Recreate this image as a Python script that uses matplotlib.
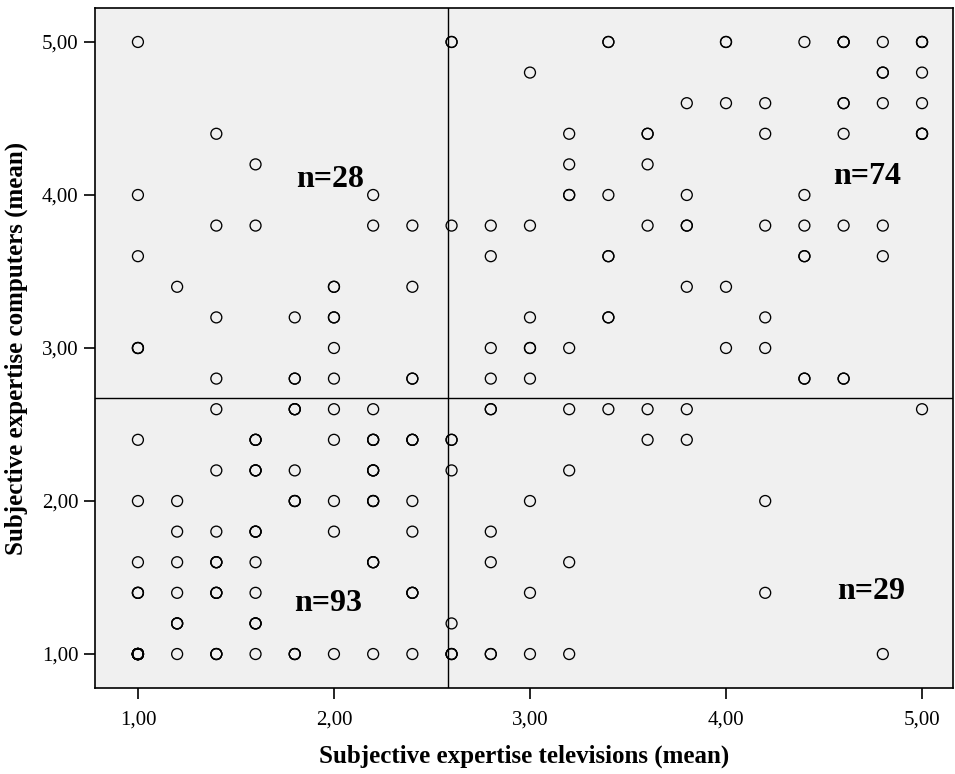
import numpy as np
import matplotlib.pyplot as plt

# -----------------------------
# DATA (n = how many cases sit on that grid point)
# -----------------------------
tv = [
    # upper left
    1.0, 1.0, 1.0, 1.0, 1.2, 1.4, 1.4, 1.4, 1.4, 1.6, 1.6, 1.8, 1.8,
    2.0, 2.0, 2.0, 2.0, 2.2, 2.2, 2.4, 2.4, 2.4,
    # upper right
    2.6, 2.6, 2.8, 2.8, 2.8, 2.8, 3.0, 3.0, 3.0, 3.0, 3.0,
    3.2, 3.2, 3.2, 3.2, 3.4, 3.4, 3.4, 3.4, 3.6, 3.6, 3.6,
    3.8, 3.8, 3.8, 3.8, 4.0, 4.0, 4.0, 4.0, 4.2, 4.2, 4.2, 4.2, 4.2,
    4.4, 4.4, 4.4, 4.4, 4.4, 4.6, 4.6, 4.6, 4.6, 4.6,
    4.8, 4.8, 4.8, 4.8, 4.8, 5.0, 5.0, 5.0, 5.0,
    # lower left
    1.0, 1.0, 1.0, 1.0, 1.0, 1.2, 1.2, 1.2, 1.2, 1.2, 1.2,
    1.4, 1.4, 1.4, 1.4, 1.4, 1.4, 1.6, 1.6, 1.6, 1.6, 1.6, 1.6, 1.6,
    1.8, 1.8, 1.8, 1.8, 2.0, 2.0, 2.0, 2.0, 2.0,
    2.2, 2.2, 2.2, 2.2, 2.2, 2.2, 2.4, 2.4, 2.4, 2.4, 2.4,
    # lower right
    2.6, 2.6, 2.6, 2.6, 2.8, 2.8, 2.8, 2.8, 3.0, 3.0, 3.0,
    3.2, 3.2, 3.2, 3.2, 3.4, 3.6, 3.6, 3.8, 3.8, 4.2, 4.2, 4.8, 5.0,
]
computers = [
    5.0, 4.0, 3.6, 3.0, 3.4, 4.4, 3.8, 3.2, 2.8, 4.2, 3.8, 3.2, 2.8,
    3.4, 3.2, 3.0, 2.8, 4.0, 3.8, 3.8, 3.4, 2.8,
    5.0, 3.8, 3.8, 3.6, 3.0, 2.8, 4.8, 3.8, 3.2, 3.0, 2.8,
    4.4, 4.2, 4.0, 3.0, 5.0, 4.0, 3.6, 3.2, 4.4, 4.2, 3.8,
    4.6, 4.0, 3.8, 3.4, 5.0, 4.6, 3.4, 3.0, 4.6, 4.4, 3.8, 3.2, 3.0,
    5.0, 4.0, 3.8, 3.6, 2.8, 5.0, 4.6, 4.4, 3.8, 2.8,
    5.0, 4.8, 4.6, 3.8, 3.6, 5.0, 4.8, 4.6, 4.4,
    2.4, 2.0, 1.6, 1.4, 1.0, 2.0, 1.8, 1.6, 1.4, 1.2, 1.0,
    2.6, 2.2, 1.8, 1.6, 1.4, 1.0, 2.4, 2.2, 1.8, 1.6, 1.4, 1.2, 1.0,
    2.6, 2.2, 2.0, 1.0, 2.6, 2.4, 2.0, 1.8, 1.0,
    2.6, 2.4, 2.2, 2.0, 1.6, 1.0, 2.4, 2.0, 1.8, 1.4, 1.0,
    2.4, 2.2, 1.2, 1.0, 2.6, 1.8, 1.6, 1.0, 2.0, 1.4, 1.0,
    2.6, 2.2, 1.6, 1.0, 2.6, 2.6, 2.4, 2.6, 2.4, 2.0, 1.4, 1.0, 2.6,
]
n = [
    1, 1, 1, 3, 1, 1, 1, 1, 1, 1, 1, 1, 2,
    2, 2, 1, 1, 1, 1, 1, 1, 2,
    2, 1, 1, 1, 1, 1, 1, 1, 1, 2, 1,
    1, 1, 2, 1, 2, 1, 2, 2, 2, 1, 1,
    1, 1, 2, 1, 2, 1, 1, 1, 1, 1, 1, 1, 1,
    1, 1, 1, 2, 2, 3, 2, 1, 1, 2,
    1, 2, 1, 1, 1, 3, 1, 1, 3,
    1, 1, 1, 3, 14, 1, 1, 1, 1, 3, 1,
    1, 1, 1, 3, 3, 3, 3, 3, 3, 1, 1, 3, 1,
    3, 1, 3, 3, 1, 1, 1, 1, 1,
    1, 3, 3, 3, 3, 1, 3, 1, 1, 3, 1,
    2, 1, 1, 3, 2, 1, 1, 2, 1, 1, 1,
    1, 1, 1, 1, 1, 1, 1, 1, 1, 1, 1, 1, 1,
]

split_tv = 2.58
split_computers = 2.673

quadrant_labels = ["n=28", "n=74", "n=93", "n=29"]
label_x = [1.98, 4.72, 1.97, 4.74]
label_y = [4.10, 4.12, 1.33, 1.41]

ticks = [1.0, 2.0, 3.0, 4.0, 5.0]

x = np.repeat(tv, n)
y = np.repeat(computers, n)

# -----------------------------
# PLOT
# -----------------------------
fig = plt.figure(figsize=(9.55, 7.74), dpi=100)
ax = fig.add_axes([95 / 955, 1 - 688 / 774, 858 / 955, 680 / 774])
ax.set_facecolor("#f0f0f0")

ax.scatter(x, y, s=62, facecolors="none", edgecolors="black", linewidths=0.95, zorder=3)

ax.axvline(split_tv, color="black", linewidth=1.0, zorder=2)
ax.axhline(split_computers, color="black", linewidth=1.0, zorder=2)

for lab, lx, ly in zip(quadrant_labels, label_x, label_y):
    ax.text(lx, ly, lab, ha="center", va="center", fontsize=23,
            fontweight="bold", family="Liberation Serif", zorder=4)

ax.set_xlim(0.781, 5.158)
ax.set_ylim(0.778, 5.222)
ax.set_xticks(ticks)
ax.set_yticks(ticks)
ax.set_xticklabels([f"{t:.2f}".replace(".", ",") for t in ticks])
ax.set_yticklabels([f"{t:.2f}".replace(".", ",") for t in ticks])
ax.tick_params(direction="out", length=8, width=1.2, labelsize=15, pad=4)
ax.tick_params(axis="x", pad=8)
for lbl in ax.get_xticklabels() + ax.get_yticklabels():
    lbl.set_family("Liberation Serif")

for sp in ax.spines.values():
    sp.set_linewidth(1.2)

ax.set_xlabel("Subjective expertise televisions (mean)", fontsize=18,
              fontweight="bold", family="Liberation Serif", labelpad=11)
ax.set_ylabel("Subjective expertise computers (mean)", fontsize=18,
              fontweight="bold", family="Liberation Serif", labelpad=10)

plt.savefig("out.png", dpi=100)
